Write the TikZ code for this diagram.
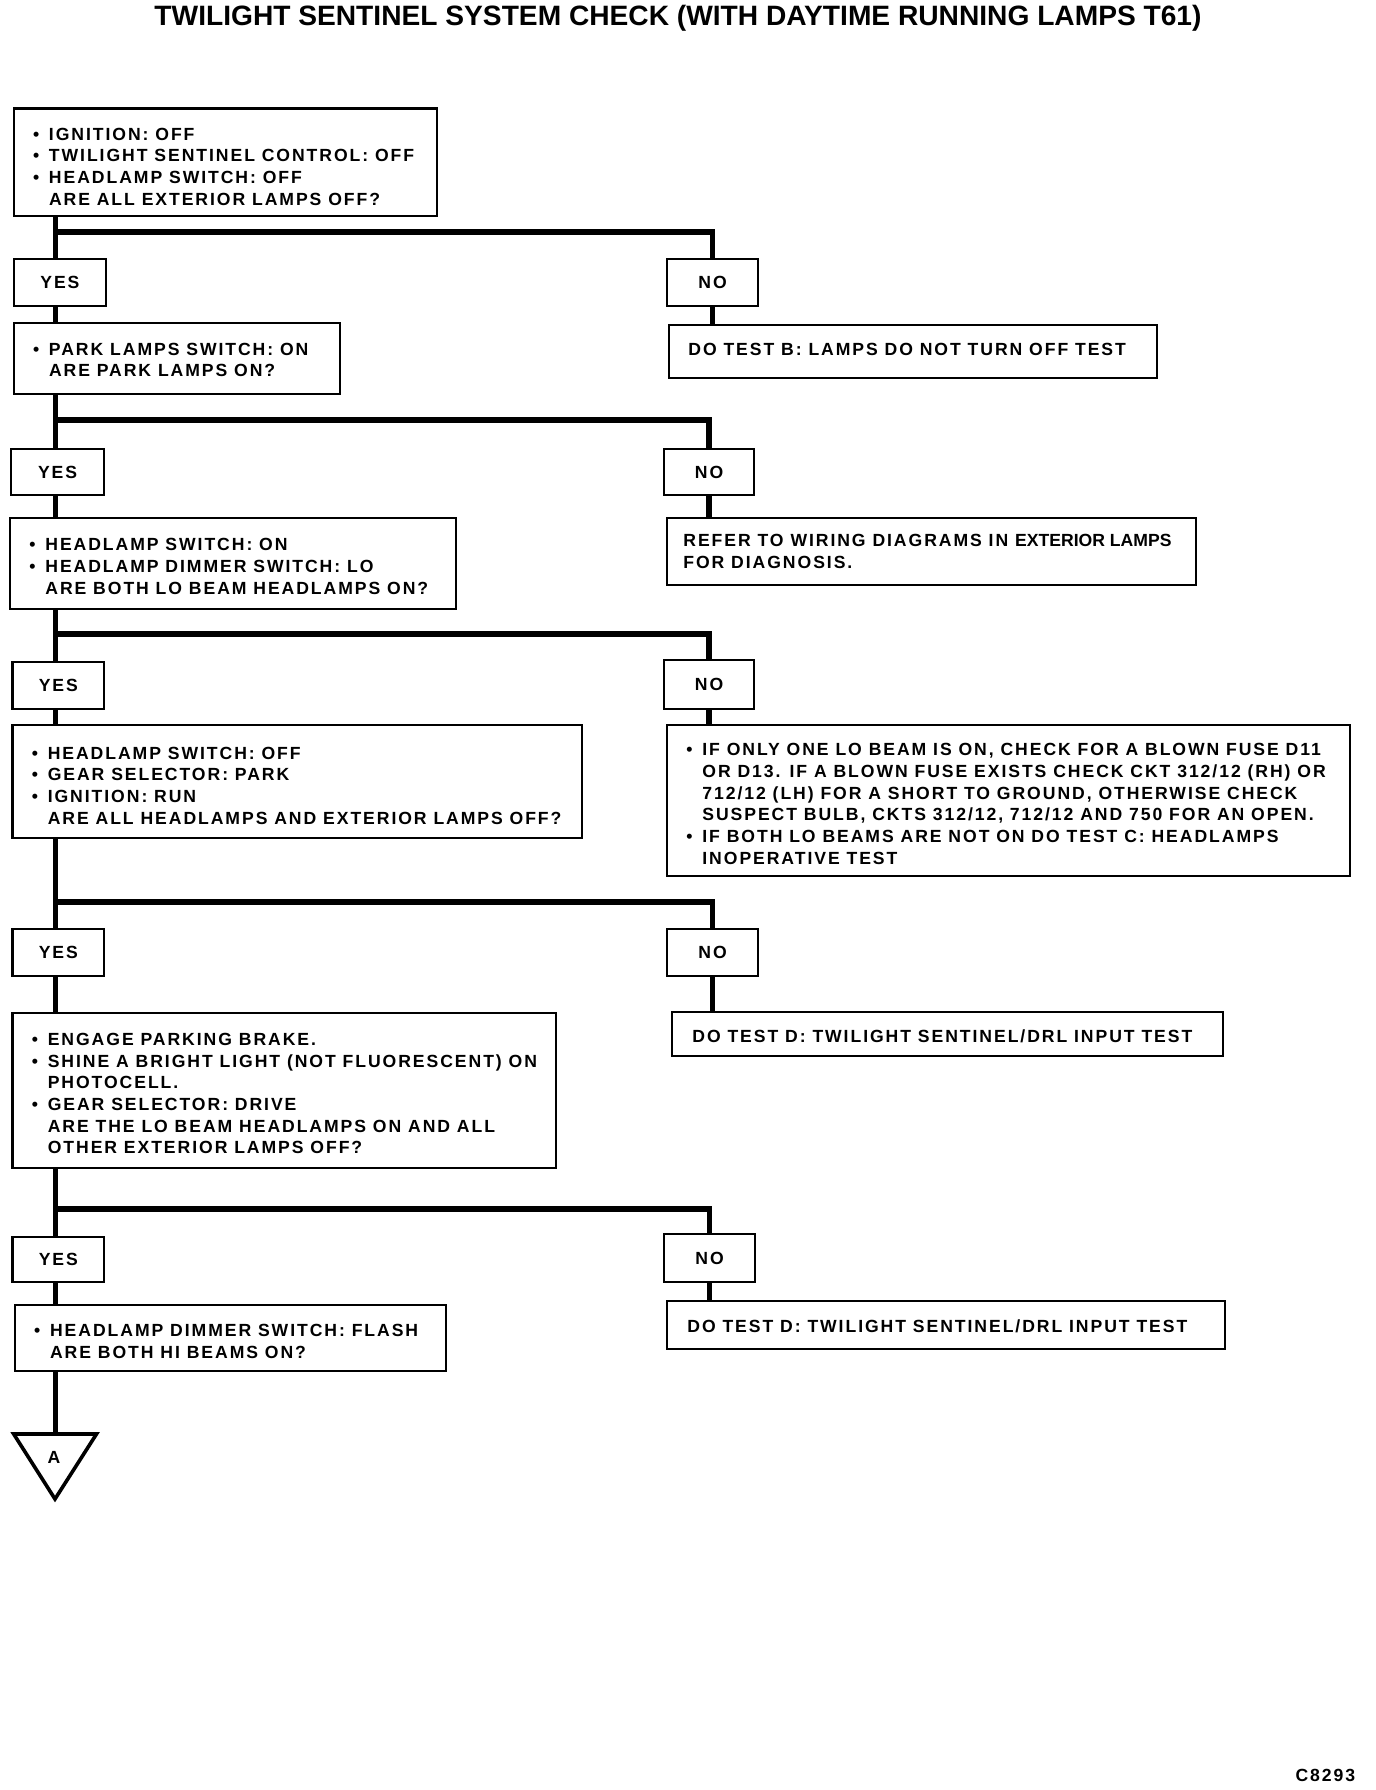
\documentclass[tikz,border=0pt]{standalone}
\usepackage{fontspec}
\usepackage{graphicx}
\newfontfamily\bodyf[LetterSpace=11]{Liberation Sans}
\newfontfamily\plainf{Liberation Sans}
\newfontfamily\titlef{Liberation Sans}
\newcommand\bodyfont{\bodyf\bfseries\fontsize{8.8}{10.85}\selectfont}
\newcommand\bul{\makebox[8pt][l]{\textbullet}}
\newcommand\indt{\hspace*{8pt}}
\tikzset{
  bx/.style={draw, line width=1.1pt, inner sep=0pt, anchor=north west},
  yn/.style={bx, font=\bodyfont},
  tx/.style={anchor=west, align=left, inner sep=0pt, font=\bodyfont},
  conn/.style={line width=2.7pt},
}
\begin{document}
\begin{tikzpicture}[x=0.5pt,y=-0.5pt]
\useasboundingbox (0,0) rectangle (1376,1790);
\fill[white] (0,0) rectangle (1376,1790);

\node (title) at (678,18) {\resizebox{523.5pt}{\height}{\titlef\bfseries\fontsize{14}{14}\selectfont TWILIGHT SENTINEL SYSTEM CHECK (WITH DAYTIME RUNNING LAMPS T61)}};

\coordinate (tr) at (55.5,0);
\coordinate (br1) at (0,231.8);
\coordinate (br2) at (0,420);
\coordinate (br3) at (0,634);
\coordinate (br4) at (0,902);
\coordinate (br5) at (0,1209);

% step 1
\node[bx, minimum width=211.8pt, minimum height=53.7pt] (b1) at (12.6,107.3) {};
\node[tx] (b1t) at ([xshift=10pt,yshift=-2.3pt]b1.west) {\bul IGNITION: OFF\\ \bul TWILIGHT SENTINEL CONTROL: OFF\\ \bul HEADLAMP SWITCH: OFF\\ \indt ARE ALL EXTERIOR LAMPS OFF?};
\node[yn, minimum width=46.2pt, minimum height=23.5pt] (y1) at (12.6,258) {YES};
\node[yn, minimum width=45.5pt, minimum height=23.5pt] (n1) at (666,258) {NO};
\node[bx, minimum width=244pt, minimum height=26.5pt] (r1) at (668,324) {};
\node[tx] (r1t) at ([xshift=10pt,yshift=1.1pt]r1.west) {DO TEST B: LAMPS DO NOT TURN OFF TEST};

% step 2
\node[bx, minimum width=163.2pt, minimum height=35.5pt] (p2) at (12.6,322) {};
\node[tx] (p2t) at ([xshift=10pt,yshift=-0.6pt]p2.west) {\bul PARK LAMPS SWITCH: ON\\ \indt ARE PARK LAMPS ON?};
\node[yn, minimum width=46.5pt, minimum height=23pt] (y2) at (10,448) {YES};
\node[yn, minimum width=45pt, minimum height=23pt] (n2) at (663,448) {NO};
\node[bx, minimum width=264.25pt, minimum height=33.25pt] (r2) at (666,517) {};
\node[tx] (r2t) at ([xshift=8.5pt]r2.west) {REFER TO WIRING DIAGRAMS IN {\plainf\bfseries EXTERIOR LAMPS}\\ FOR DIAGNOSIS.};

% step 3
\node[bx, minimum width=222.75pt, minimum height=45.25pt] (b3) at (9,517) {};
\node[tx] (b3t) at ([xshift=10pt,yshift=-1.5pt]b3.west) {\bul HEADLAMP SWITCH: ON\\ \bul HEADLAMP DIMMER SWITCH: LO\\ \indt ARE BOTH LO BEAM HEADLAMPS ON?};
\node[yn, minimum width=45.8pt, minimum height=23.5pt] (y3) at (11.4,661) {YES};
\node[yn, minimum width=45pt, minimum height=24.5pt] (n3) at (663,659) {NO};
\node[bx, minimum width=341.3pt, minimum height=75.35pt] (r3) at (666,724) {};
\node[tx] (r3t) at ([xshift=10pt,yshift=-1.7pt]r3.west) {\bul IF ONLY ONE LO BEAM IS ON, CHECK FOR A BLOWN FUSE D11\\ \indt OR D13. IF A BLOWN FUSE EXISTS CHECK CKT 312/12 (RH) OR\\ \indt 712/12 (LH) FOR A SHORT TO GROUND, OTHERWISE CHECK\\ \indt SUSPECT BULB, CKTS 312/12, 712/12 AND 750 FOR AN OPEN.\\ \bul IF BOTH LO BEAMS ARE NOT ON DO TEST C: HEADLAMPS\\ \indt INOPERATIVE TEST};

% step 4
\node[bx, minimum width=284.8pt, minimum height=56.5pt] (b4) at (11.4,724) {};
\node[tx] (b4t) at ([xshift=10pt,yshift=-2pt]b4.west) {\bul HEADLAMP SWITCH: OFF\\ \bul GEAR SELECTOR: PARK\\ \bul IGNITION: RUN\\ \indt ARE ALL HEADLAMPS AND EXTERIOR LAMPS OFF?};
\node[yn, minimum width=45.8pt, minimum height=23.5pt] (y4) at (11.4,928) {YES};
\node[yn, minimum width=45.5pt, minimum height=23.5pt] (n4) at (666,928) {NO};
\node[bx, minimum width=275.5pt, minimum height=22.2pt] (r4) at (671,1010.6) {};
\node[tx] (r4t) at ([xshift=10.5pt,yshift=-1.1pt]r4.west) {DO TEST D: TWILIGHT SENTINEL/DRL INPUT TEST};

% step 5
\node[bx, minimum width=271.8pt, minimum height=77.5pt] (b5) at (11.4,1012) {};
\node[tx] (b5t) at ([xshift=10pt,yshift=-1.5pt]b5.west) {\bul ENGAGE PARKING BRAKE.\\ \bul SHINE A BRIGHT LIGHT (NOT FLUORESCENT) ON\\ \indt PHOTOCELL.\\ \bul GEAR SELECTOR: DRIVE\\ \indt ARE THE LO BEAM HEADLAMPS ON AND ALL\\ \indt OTHER EXTERIOR LAMPS OFF?};
\node[yn, minimum width=45.8pt, minimum height=22.75pt] (y5) at (11.4,1235.5) {YES};
\node[yn, minimum width=45.5pt, minimum height=24pt] (n5) at (663,1233) {NO};
\node[bx, minimum width=279pt, minimum height=24pt] (r5) at (666,1299.5) {};
\node[tx] (r5t) at ([xshift=10.5pt,yshift=-0.6pt]r5.west) {DO TEST D: TWILIGHT SENTINEL/DRL INPUT TEST};

% step 6
\node[bx, minimum width=215.65pt, minimum height=33pt] (b6) at (13.7,1304) {};
\node[tx] (b6t) at ([xshift=10pt,yshift=-1.7pt]b6.west) {\bul HEADLAMP DIMMER SWITCH: FLASH\\ \indt ARE BOTH HI BEAMS ON?};

% off-page connector
\coordinate (tritop) at (55.5,1434);
\draw[line width=1.8pt, line join=miter] (13.7,1434) -- (96.5,1434) -- (55,1499) -- cycle;
\node[font=\bodyfont, inner sep=0pt] (lblA) at (54,1457) {A};

% connectors
\draw[conn] (tr |- b1.south) -- (tr |- y1.north);
\draw[conn] (tr |- br1) -| (n1.north);
\draw[conn] (n1.south) -- (n1.south |- r1.north);
\draw[conn] (tr |- y1.south) -- (tr |- p2.north);

\draw[conn] (tr |- p2.south) -- (tr |- y2.north);
\draw[conn] (tr |- br2) -| (n2.north);
\draw[conn] (n2.south) -- (n2.south |- r2.north);
\draw[conn] (tr |- y2.south) -- (tr |- b3.north);

\draw[conn] (tr |- b3.south) -- (tr |- y3.north);
\draw[conn] (tr |- br3) -| (n3.north);
\draw[conn] (n3.south) -- (n3.south |- r3.north);
\draw[conn] (tr |- y3.south) -- (tr |- b4.north);

\draw[conn] (tr |- b4.south) -- (tr |- y4.north);
\draw[conn] (tr |- br4) -| (n4.north);
\draw[conn] (n4.south) -- (n4.south |- r4.north);
\draw[conn] (tr |- y4.south) -- (tr |- b5.north);

\draw[conn] (tr |- b5.south) -- (tr |- y5.north);
\draw[conn] (tr |- br5) -| (n5.north);
\draw[conn] (n5.south) -- (n5.south |- r5.north);
\draw[conn] (tr |- y5.south) -- (tr |- b6.north);

\draw[conn] (tr |- b6.south) -- (tritop);

\node[anchor=base east, font=\bodyfont, inner sep=0pt] (code) at (1355.5,1781) {C8293};
\end{tikzpicture}
\end{document}
